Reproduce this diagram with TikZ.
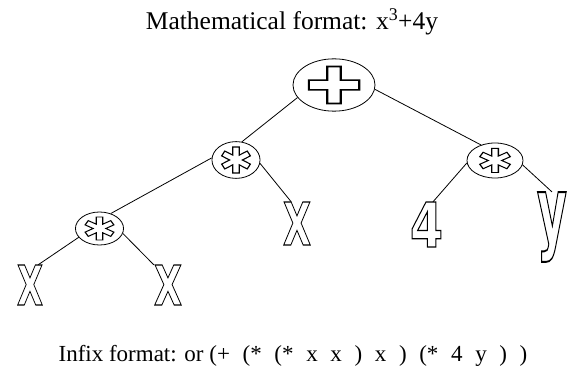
\documentclass[tikz,border=0pt]{standalone}
\usepackage{fontspec}
\usepackage{graphicx}
\setmainfont{Liberation Serif}
\newfontfamily\leaffont{DejaVu Sans Bold}
\newfontfamily\symfont{DejaVu Sans}
\usetikzlibrary{shapes.geometric}

% outlined (hollow) glyphs, as in the old bitmap figure
\newcommand{\hollow}[1]{\special{pdf:literal direct 1 Tr 1.2 w}#1\special{pdf:literal direct 0 Tr}}
\newcommand{\leafsym}[3]{\resizebox{#1pt}{#2pt}{\leaffont\fontsize{60}{60}\selectfont\hollow{#3}}}
\newcommand{\opsym}[3]{\resizebox{#1pt}{#2pt}{\symfont\fontsize{40}{40}\selectfont\hollow{#3}}}
\newcommand{\gap}{\hspace{0.55em}}

\begin{document}
\begin{tikzpicture}[
    x=1pt, y=-1pt,
    opnode/.style={draw, ellipse, line width=0.8pt, inner sep=0pt},
    leafnode/.style={inner sep=0pt},
    branch/.style={line width=0.8pt},
    caption/.style={anchor=base}
]
    \useasboundingbox (0,0) rectangle (568,371);

    % --- Title ---
    \node[caption, font=\fontsize{25.5}{30}\selectfont] (title) at (292,30) {Mathematical format: x\textsuperscript{3}+4y};

    % --- Operators ---
    \node[opnode, minimum width=62pt, minimum height=50pt] (plus) at (334,85) {\opsym{58}{37}{✚}};
    \node[opnode, minimum width=42pt, minimum height=36pt] (ls) at (236,160) {\opsym{34}{26}{✱}};
    \node[opnode, minimum width=56pt, minimum height=35pt] (rs) at (495,160.5) {\opsym{36}{24}{✱}};
    \node[opnode, minimum width=43pt, minimum height=33pt] (ll) at (99.5,228.5) {\opsym{34}{23}{✱}};

    % --- Leaves ---
    \node[leafnode] (mx) at (297,223.5) {\leafsym{28}{43}{X}};
    \node[leafnode] (four) at (426.5,224.5) {\leafsym{33}{45}{4}};
    \node[leafnode] (yy) at (552,227) {\leafsym{30}{50}{y}};
    \node[leafnode] (lx) at (30,285) {\leafsym{26}{40}{X}};
    \node[leafnode] (rx) at (168,285) {\leafsym{28}{40}{X}};

    % --- Branches ---
    \draw[branch] (plus.199) -- (ls.72);
    \draw[branch] (plus.354) -- (rs.132);
    \draw[branch] (ls.175) -- (ll.53);
    \draw[branch] (ls.352) -- (mx.105);
    \draw[branch] (rs.185) -- (four.74);
    \draw[branch] (rs.351) -- (yy.north);
    \draw[branch] (ll.203) -- (lx.68);
    \draw[branch] (ll.348) -- (rx.north west);

    % --- Prefix form ---
    \node[caption, font=\fontsize{23}{28}\selectfont] (infix) at (293,362) {Infix format: or (+\gap(*\gap(*\gap x\gap x\gap)\gap x\gap)\gap(*\gap 4\gap y\gap)\gap)};

\end{tikzpicture}
\end{document}
